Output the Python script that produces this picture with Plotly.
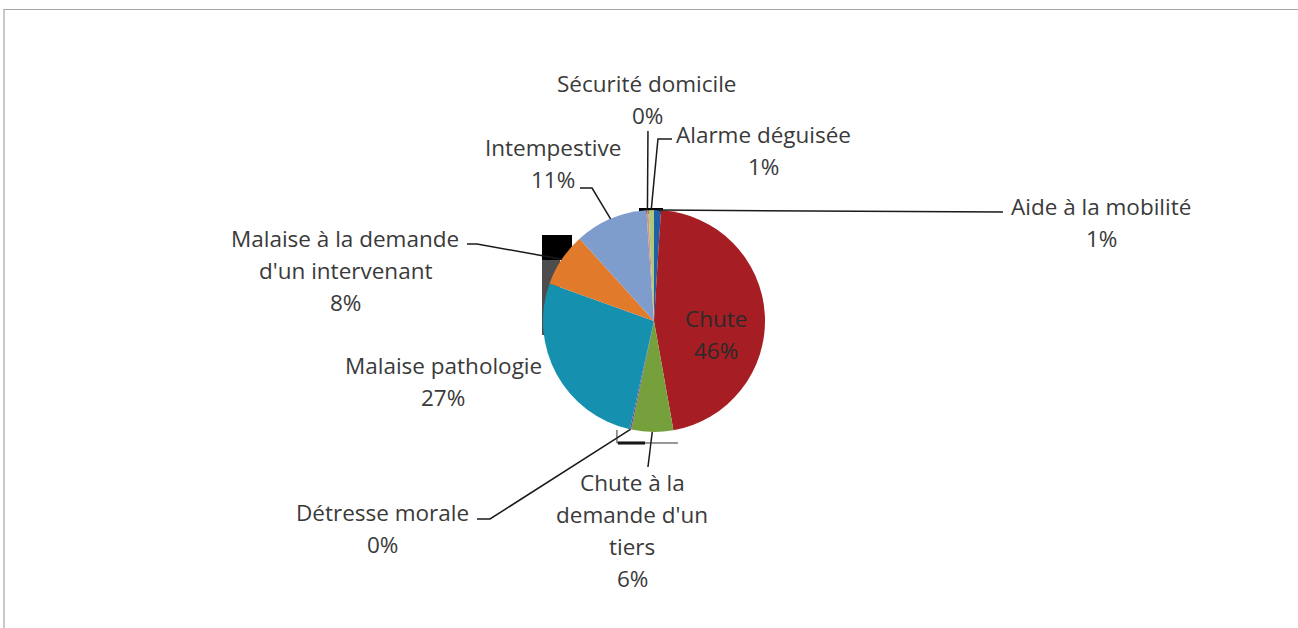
import math
import plotly.graph_objects as go

W, H = 1298, 628

# ---- data ----
labels = ["Aide à la mobilité", "Chute", "Chute à la demande d'un tiers", "Détresse morale",
          "Malaise pathologie", "Malaise à la demande d'un intervenant", "Intempestive",
          "Sécurité domicile", "Alarme déguisée"]
values = [1.0, 46.2, 6.1, 0.2, 27.0, 7.8, 10.6, 0.3, 0.8]
label_lines = [["Aide à la mobilité"], ["Chute"], ["Chute à la", "demande d'un", "tiers"],
               ["Détresse morale"], ["Malaise pathologie"],
               ["Malaise à la demande", "d'un intervenant"], ["Intempestive"],
               ["Sécurité domicile"], ["Alarme déguisée"]]
colors = ["#1F5FA5", "#A61E24", "#76A03C", "#6A4B9B", "#1590AE", "#E27A2C",
          "#7F9DCC", "#D98C8C", "#ADCA7C"]

# ---- layout constants (pixels) ----
CX, CY, R = 654, 321, 111
TXT = "#3a3a3a"
FONT = "Open Sans"
FS = 22.5
LH = 32
# label block centres (px)
label_pos = [(1101, 222), (716, 334), (632, 530), (382, 528), (443, 381),
             (345, 270), (553, 164), (647, 100), (763, 150)]
# leader line start points (px) (None = no leader)
leader_start = [[(1003, 212)], None, [(648, 467)], [(477, 519), (490, 519)], None,
                [(467, 244), (477, 244)], [(580, 188), (592, 188)], [(648, 131)],
                [(672, 139), (658, 139)]]


def px(x):
    return x / W


def py(y):
    return 1 - y / H


total = sum(values)
fig = go.Figure()
fig.add_trace(go.Pie(
    labels=labels, values=values, sort=False, direction="clockwise", rotation=0,
    marker=dict(colors=colors, line=dict(width=0)),
    textinfo="none", showlegend=False, hoverinfo="label+percent",
    domain=dict(x=[px(CX - R), px(CX + R)], y=[py(CY + R), py(CY - R)]),
))

annotations = []
shapes = []
cum = 0.0
for i, v in enumerate(values):
    mid = (cum + v / 2) / total
    cum += v
    ang = 2 * math.pi * mid
    tipx = CX + R * math.sin(ang)
    tipy = CY - R * math.cos(ang)
    pct = "%d%%" % round(v / total * 100)
    pos = label_pos[i]
    lines = label_lines[i] + [pct]
    n = len(lines)
    for k, t in enumerate(lines):
        yy = pos[1] + (k - (n - 1) / 2) * LH
        annotations.append(dict(x=px(pos[0]), y=py(yy), xref="paper", yref="paper",
                                text=t, showarrow=False, xanchor="center", yanchor="middle",
                                font=dict(family=FONT, size=FS,
                                          color="#2a2a2a" if i == 1 else TXT)))
    if leader_start[i]:
        pts = leader_start[i] + [(tipx, tipy)]
        path = "M " + " L ".join("%.4f,%.4f" % (px(a), py(b)) for a, b in pts)
        shapes.append(dict(type="path", path=path, xref="paper", yref="paper",
                           line=dict(color="#1a1a1a", width=1.5)))

# chart border
shapes.append(dict(type="rect", xref="paper", yref="paper", x0=px(4), x1=1.05,
                   y0=-0.05, y1=py(9.5), line=dict(color="#a6a6a6", width=1.2)))
# rendering artefacts of the original
shapes.append(dict(type="rect", xref="paper", yref="paper", x0=px(542), x1=px(572),
                   y0=py(260), y1=py(235), fillcolor="black", line=dict(width=0), layer="below"))
shapes.append(dict(type="rect", xref="paper", yref="paper", x0=px(542), x1=px(560),
                   y0=py(335), y1=py(260), fillcolor="#202020", opacity=0.8,
                   line=dict(width=0), layer="below"))
shapes.append(dict(type="rect", xref="paper", yref="paper", x0=px(639), x1=px(663),
                   y0=py(214), y1=py(208), fillcolor="black", line=dict(width=0), layer="below"))
shapes.append(dict(type="rect", xref="paper", yref="paper", x0=px(618), x1=px(645),
                   y0=py(444.5), y1=py(441.5), fillcolor="black", line=dict(width=0)))
shapes.append(dict(type="path", xref="paper", yref="paper",
                   path="M %.4f,%.4f L %.4f,%.4f L %.4f,%.4f" % (px(617), py(430), px(617), py(443), px(678), py(443)),
                   line=dict(color="#303030", width=1)))

fig.update_layout(
    width=W, height=H, margin=dict(l=0, r=0, t=0, b=0),
    paper_bgcolor="white", plot_bgcolor="white",
    annotations=annotations, shapes=shapes,
)
fig.write_html("out.html", config={"displayModeBar": False},
               post_script="document.body.style.margin='0';document.body.style.overflow='hidden';")
